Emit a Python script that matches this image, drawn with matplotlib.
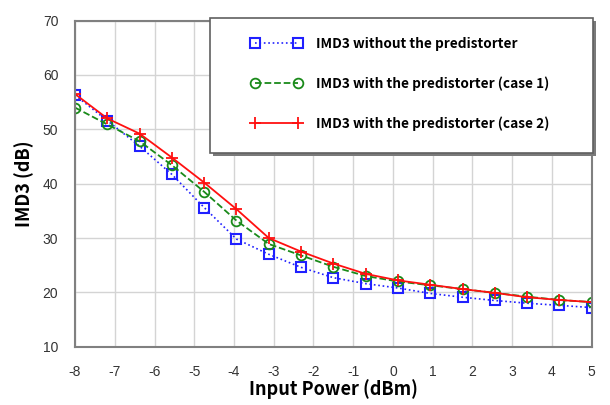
import matplotlib.pyplot as plt
import matplotlib.transforms as mtransforms
from matplotlib.patches import Rectangle
import numpy as np

# input power steps (17 points from -8 to 5 dBm)
power = np.linspace(-8, 5, 17)

imd3_no_pd = [56.3, 51.6, 46.9, 41.7, 35.6, 29.8, 27.0, 24.6, 22.7, 21.6, 20.8,
              19.8, 19.1, 18.5, 18.0, 17.6, 17.2]
imd3_case1 = [54.0, 50.9, 47.8, 43.4, 38.5, 33.2, 28.9, 26.8, 24.7, 23.0, 22.0,
              21.3, 20.6, 19.9, 19.2, 18.6, 18.2]
imd3_case2 = [56.5, 52.0, 49.2, 44.8, 40.2, 35.3, 30.0, 27.5, 25.3, 23.4, 22.2,
              21.4, 20.6, 19.9, 19.1, 18.6, 18.2]

xticks = list(range(-8, 6))
yticks = list(range(10, 71, 10))

plt.rcParams['font.family'] = ['Liberation Sans', 'DejaVu Sans']
plt.rcParams['axes.unicode_minus'] = False
kr = ['Noto Sans CJK KR', 'DejaVu Sans']

fig = plt.figure(figsize=(6.1, 4.05), dpi=100)
ax = fig.add_axes([0.123, 0.144, 0.847, 0.805])

ax.plot(power, imd3_no_pd, color='#2020ff', linestyle=':', linewidth=1.2,
        marker='s', markersize=6.5, markerfacecolor='none', markeredgewidth=1.5,
        label='IMD3 without the predistorter')
ax.plot(power, imd3_case1, color='#1a8a1a', linestyle='--', linewidth=1.3,
        marker='o', markersize=7, markerfacecolor='none', markeredgewidth=1.3,
        label='IMD3 with the predistorter (case 1)')
ax.plot(power, imd3_case2, color='#ff1010', linestyle='-', linewidth=1.3,
        marker='+', markersize=9, markeredgewidth=1.3,
        label='IMD3 with the predistorter (case 2)')

ax.set_xlim(-8, 5)
ax.set_ylim(10, 70)
ax.set_xticks(xticks)
ax.set_yticks(yticks)
ax.grid(True, color='#d4d4d4', linewidth=1)
ax.set_axisbelow(True)
ax.tick_params(length=0, labelsize=10, colors='#333333')
ax.tick_params(axis='x', pad=13)
ax.tick_params(axis='y', pad=12)
for s in ax.spines.values():
    s.set_color('#808080')
    s.set_linewidth(1.5)

ax.set_xlabel('Input Power (dBm)', fontsize=13, fontweight='bold',
              family=kr, labelpad=0)
ax.set_ylabel('IMD3 (dB)', fontsize=13, fontweight='bold',
              family=kr, labelpad=6)

# legend box drawn separately so the padding can match the original
box = (0.261, 0.594, 0.741, 0.414)
shadow_tr = mtransforms.offset_copy(ax.transAxes, fig=fig, x=3, y=-3, units='dots')
ax.add_patch(Rectangle(box[:2], box[2], box[3], transform=shadow_tr,
                       facecolor='#7a7a7a', edgecolor='none', clip_on=False, zorder=9))
ax.add_patch(Rectangle(box[:2], box[2], box[3], transform=ax.transAxes,
                       facecolor='white', edgecolor='#606060', linewidth=1.2,
                       clip_on=False, zorder=9.5))

leg = ax.legend(loc='upper left', bbox_to_anchor=(0.34, 0.95), numpoints=2,
                handlelength=3.8, handletextpad=1.0, borderpad=0,
                borderaxespad=0, labelspacing=1.85, frameon=False,
                prop={'family': kr, 'size': 9.8, 'weight': 'bold'})
leg.set_zorder(10)

fig.savefig('out.png', dpi=100)
